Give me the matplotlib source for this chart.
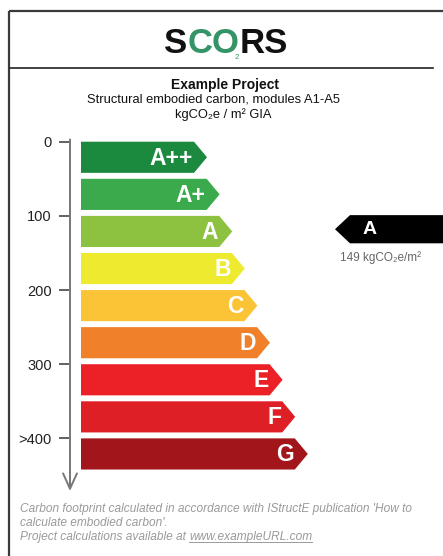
import matplotlib
matplotlib.use("Agg")
import matplotlib.pyplot as plt
from matplotlib.patches import Polygon

plt.rcParams["font.family"] = ["Liberation Sans", "DejaVu Sans"]

# rating bands, kgCO2e/m2 GIA
grades = ["A++", "A+", "A", "B", "C", "D", "E", "F", "G"]
band_lower = [0, 50, 100, 150, 200, 250, 300, 350, 400]
grade_colors = ["#1b8a3e", "#3aaa4c", "#8cc23f", "#eeea30", "#fbc436",
                "#f0802a", "#ec2027", "#df1f26", "#a2161b"]
tick_values = [0, 100, 200, 300, 400]
tick_labels = ["0", "100", "200", "300", ">400"]

project_value = 149

title_lines = ["Example Project",
               "Structural embodied carbon, modules A1-A5",
               "kgCO\u2082e / m\u00b2 GIA"]
footer_lines = ["Carbon footprint calculated in accordance with IStructE publication 'How to",
                "calculate embodied carbon'.",
                "Project calculations available at "]
footer_url = "www.exampleURL.com"

W, H = 443, 556
fig = plt.figure(figsize=(W / 100, H / 100), dpi=100)

# background axes in pixel units for frame and text
bg = fig.add_axes([0, 0, 1, 1])
bg.set_xlim(0, W)
bg.set_ylim(H, 0)
bg.axis("off")

frame = "#3a3a3a"
bg.plot([9.5, 9.5], [11, H], color=frame, lw=1.6, solid_capstyle="butt")
bg.plot([9.5, W], [11, 11], color=frame, lw=1.6, solid_capstyle="butt")
bg.plot([10, 433], [67.5, 67.5], color="#222222", lw=1.2)

# logo: black word, green "CO" laid over it
green = "#349467"
logo_kw = dict(fontsize=25, fontweight="bold", va="baseline", ha="left")
fig.canvas.draw()
r = fig.canvas.get_renderer()
inv = bg.transData.inverted()


def text_width(s):
    t = bg.text(0, 0, s, **logo_kw)
    bb = t.get_window_extent(r).transformed(inv)
    t.remove()
    return bb.x1 - bb.x0


x_logo = 226 - text_width("SCORS") / 2
x_co = x_logo + text_width("S")
x_end_co = x_logo + text_width("SCO")
bg.text(x_logo, 53, "S", color="#111111", **logo_kw)
bg.text(x_co, 53, "CO", color=green, **logo_kw)
bg.text(x_end_co, 53, "RS", color="#111111", **logo_kw)
bg.text(x_end_co - 2.5, 57.5, "2", fontsize=5.5, color=green, ha="center", va="center")

bg.text(225, 85, title_lines[0], fontsize=10, fontweight="bold", ha="center",
        va="center", color="#111111")
bg.text(214, 100, title_lines[1], fontsize=9.3, ha="center", va="center", color="#111111")
bg.text(223, 115, title_lines[2], fontsize=9.3, ha="center", va="center", color="#111111")

# footer
fcol = "#9a9a9a"
for i, line in enumerate(footer_lines):
    t = bg.text(20, 509 + 14 * i, line, fontsize=8.6, style="italic", color=fcol,
                ha="left", va="center")
u = bg.annotate(footer_url, xy=(1, 0.5), xycoords=t, fontsize=8.6, style="italic",
                color=fcol, ha="left", va="center")
fig.canvas.draw()
bb = u.get_window_extent().transformed(bg.transData.inverted())
bg.plot([bb.x0, bb.x1], [bb.y0 - 1.5, bb.y0 - 1.5], color=fcol, lw=0.7)

# rating chart
ax = fig.add_axes([70 / W, 1 - 494 / H, 373 / W, 356 / H])
ax.set_xlim(0, 373)
ax.set_ylim(475, -5)
ax.patch.set_alpha(0)
for sp in ax.spines.values():
    sp.set_visible(False)
ax.set_xticks([])
ax.set_yticks(tick_values)
ax.set_yticklabels(tick_labels, fontsize=10.5, color="#222222")
ax.tick_params(axis="y", direction="out", length=8, width=1.3, color="#555555", pad=5)

ax.annotate("", xy=(0, 471), xytext=(0, -3), xycoords="data",
            arrowprops=dict(arrowstyle="->,head_length=1.1,head_width=0.5",
                            color="#777777", lw=1.4, mutation_scale=10,
                            shrinkA=0, shrinkB=0))

bar_h = 42
x0 = 11
for i, (g, lo, c) in enumerate(zip(grades, band_lower, grade_colors)):
    tip = 137 + 12.6 * i
    xr = tip - 13
    top, bot = lo, lo + bar_h
    mid = (top + bot) / 2
    ax.add_patch(Polygon([(x0, top), (xr, top), (tip, mid), (xr, bot), (x0, bot)],
                         closed=True, fc=c, ec="none"))
    ax.text(tip - 14, mid + 1, g, color="white", fontsize=16.5, fontweight="bold",
            ha="right", va="center")

# project rating marker
k = max(i for i, lo in enumerate(band_lower) if project_value >= lo)
mtop, mbot = band_lower[k] - 1, band_lower[k] + 37
mmid = (mtop + mbot) / 2
ax.add_patch(Polygon([(265, mmid), (280, mtop), (380, mtop), (380, mbot), (280, mbot)],
                     closed=True, fc="black", ec="none"))
ax.text(300, mmid, grades[k], color="white", fontsize=14, fontweight="bold",
        ha="center", va="center")
ax.text(270, 156, f"{project_value} kgCO\u2082e/m\u00b2", color="#666666",
        fontsize=8.5, ha="left", va="center")

fig.savefig("out.png", dpi=100)
